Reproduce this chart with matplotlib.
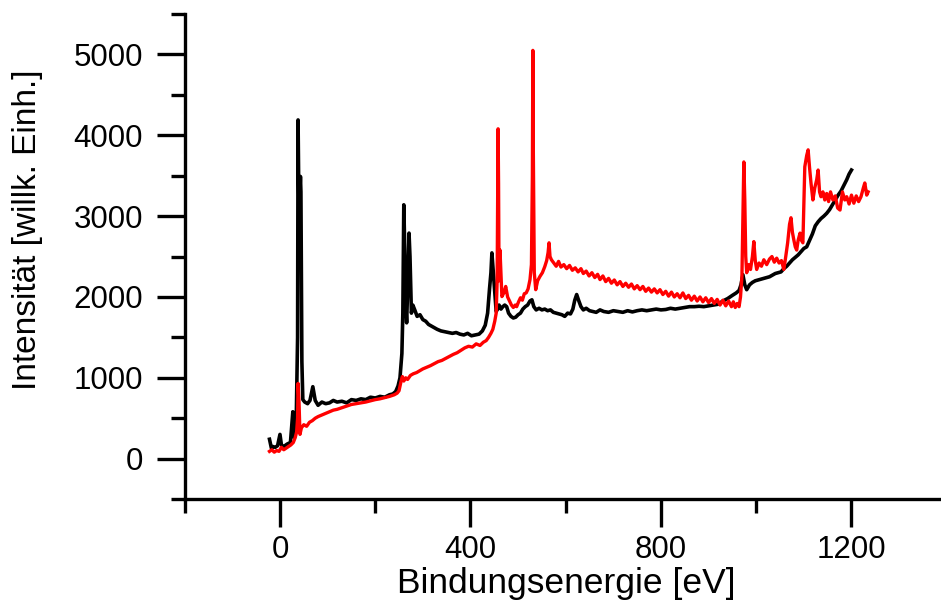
import matplotlib
matplotlib.use('Agg')
import matplotlib.pyplot as plt
from matplotlib.ticker import MultipleLocator

plt.rcParams['font.family'] = ['Liberation Sans', 'DejaVu Sans']

# black spectrum
black_x = [-22, -18, -15, -10, -5, 0, 3, 8, 15, 22,
           27, 30, 34, 37, 38, 40, 43, 44, 46, 48,
           52, 58, 63, 69, 74, 80, 88, 96, 104, 112,
           120, 130, 140, 150, 160, 170, 180, 190, 200, 210,
           220, 230, 237, 243, 248, 252, 256, 258, 260, 262,
           264, 266, 269, 271, 273, 276, 279, 283, 288, 294,
           300, 306, 312, 318, 324, 330, 338, 346, 354, 362,
           370, 378, 386, 394, 402, 410, 418, 425, 431, 436,
           440, 443, 445, 448, 451, 454, 457, 460, 464, 468,
           472, 476, 480, 485, 490, 495, 500, 505, 510, 515,
           520, 525, 529, 533, 538, 544, 550, 556, 562, 568,
           574, 580, 586, 592, 598, 604, 610, 615, 619, 623,
           627, 632, 637, 643, 650, 657, 664, 672, 680, 690,
           700, 710, 720, 730, 740, 750, 760, 770, 780, 790,
           800, 810, 820, 830, 840, 850, 860, 870, 880, 890,
           900, 910, 920, 930, 940, 950, 958, 964, 968, 972,
           976, 980, 986, 992, 998, 1004, 1010, 1016, 1022, 1028,
           1034, 1040, 1046, 1052, 1058, 1064, 1070, 1076, 1082, 1088,
           1094, 1100, 1106, 1112, 1118, 1124, 1130, 1136, 1142, 1148,
           1154, 1160, 1166, 1172, 1178, 1184, 1190, 1195, 1200]
black_y = [240, 130, 150, 140, 160, 300, 170, 150, 180, 200,
           580, 260, 420, 1500, 4190, 3000, 3490, 3300, 1200, 730,
           700, 680, 720, 890, 720, 660, 700, 680, 690, 720,
           700, 710, 690, 730, 720, 740, 730, 760, 750, 770,
           760, 790, 800, 830, 900, 1000, 1300, 1800, 3140, 2600,
           1900, 1680, 2300, 2790, 2500, 1800, 1900, 1840, 1760, 1780,
           1720, 1700, 1660, 1640, 1620, 1600, 1580, 1570, 1560, 1550,
           1560, 1540, 1530, 1550, 1520, 1530, 1540, 1580, 1650, 1800,
           2100, 2300, 2545, 2300, 2050, 1820, 1850, 1900, 1850, 1880,
           1900, 1880, 1800, 1760, 1740, 1750, 1780, 1800, 1850, 1880,
           1900, 1950, 1965, 1880, 1840, 1860, 1840, 1850, 1830, 1840,
           1810, 1800, 1790, 1780, 1760, 1800, 1790, 1850, 1960, 2030,
           1960, 1880, 1840, 1860, 1830, 1820, 1810, 1840, 1820, 1810,
           1830, 1820, 1810, 1830, 1815, 1830, 1840, 1830, 1840, 1850,
           1840, 1845, 1860, 1850, 1860, 1870, 1880, 1880, 1885, 1880,
           1890, 1900, 1910, 1950, 1980, 2020, 2050, 2080, 2150, 2275,
           2150, 2090, 2150, 2180, 2200, 2210, 2220, 2230, 2240, 2250,
           2270, 2290, 2300, 2310, 2350, 2380, 2420, 2460, 2490, 2520,
           2560, 2600, 2620, 2700, 2780, 2880, 2930, 2970, 3000, 3035,
           3080, 3140, 3200, 3260, 3310, 3380, 3450, 3520, 3570]

# red spectrum
red_x = [-22, -17, -12, -7, -2, 3, 8, 13, 18, 23,
         28, 32, 35, 37, 38, 40, 42, 45, 50, 56,
         62, 68, 74, 80, 88, 96, 104, 112, 120, 130,
         140, 150, 160, 170, 180, 190, 200, 210, 220, 230,
         240, 246, 250, 254, 257, 260, 264, 268, 274, 280,
         287, 294, 300, 308, 316, 324, 332, 340, 348, 356,
         364, 372, 380, 388, 396, 404, 412, 420, 427, 433,
         438, 443, 447, 451, 454, 456, 457, 458, 459, 460,
         462, 464, 466, 470, 474, 478, 482, 486, 490, 494,
         497, 501, 505, 509, 513, 517, 521, 525, 528, 530,
         531, 532, 534, 537, 541, 546, 551, 556, 560, 563,
         565, 567, 570, 575, 580, 585, 590, 596, 602, 608,
         614, 620, 626, 632, 637, 643, 649, 655, 661, 667,
         672, 678, 684, 690, 696, 702, 708, 714, 720, 726,
         732, 738, 744, 750, 756, 762, 768, 774, 780, 786,
         792, 798, 804, 810, 816, 822, 828, 834, 840, 846,
         852, 858, 864, 870, 876, 882, 888, 894, 900, 906,
         912, 918, 924, 930, 936, 942, 948, 952, 956, 960,
         964, 967, 970, 972, 974, 976, 978, 980, 984, 988,
         992, 995, 998, 1001, 1006, 1011, 1016, 1022, 1028, 1033,
         1038, 1043, 1048, 1053, 1058, 1062, 1066, 1070, 1073, 1076,
         1079, 1082, 1085, 1088, 1092, 1095, 1098, 1102, 1106, 1109,
         1112, 1115, 1119, 1123, 1127, 1130, 1133, 1136, 1140, 1144,
         1148, 1152, 1156, 1161, 1166, 1171, 1176, 1181, 1186, 1190,
         1195, 1200, 1205, 1210, 1215, 1220, 1225, 1228, 1232, 1235]
red_y = [90, 110, 80, 100, 90, 140, 110, 130, 150, 170,
         200, 260, 330, 500, 930, 700, 300, 380, 420, 400,
         450, 470, 500, 520, 540, 560, 580, 600, 610, 630,
         650, 670, 680, 690, 700, 715, 730, 740, 755, 770,
         790, 810, 840, 950, 1015, 960, 1000, 980, 1030, 1050,
         1065, 1090, 1110, 1130, 1150, 1175, 1200, 1215, 1240, 1265,
         1290, 1310, 1340, 1370, 1390, 1380, 1420, 1400, 1440, 1460,
         1500, 1550, 1600, 1700, 1800, 2200, 3200, 4080, 3400, 2200,
         2580, 2300, 2005, 2050, 2130, 2000, 1950, 1900, 1870, 1900,
         1880, 1940, 1990, 1960, 2040, 2050, 2100, 2215, 2400, 3500,
         5050, 3800, 2300, 2090, 2200, 2255, 2300, 2375, 2450, 2550,
         2670, 2500, 2460, 2420, 2380, 2440, 2370, 2400, 2350, 2390,
         2330, 2360, 2310, 2350, 2290, 2320, 2260, 2300, 2240, 2280,
         2215, 2260, 2190, 2230, 2170, 2210, 2150, 2190, 2130, 2170,
         2120, 2160, 2100, 2140, 2090, 2130, 2070, 2110, 2060, 2100,
         2050, 2090, 2030, 2070, 2010, 2060, 2000, 2040, 1990, 2050,
         1980, 2020, 1960, 2010, 1950, 2000, 1940, 1990, 1930, 1980,
         1920, 1970, 1900, 1960, 1890, 1950, 1880, 1940, 1870, 1920,
         1880, 2000, 2255, 3000, 3670, 3200, 2500, 2300, 2400, 2340,
         2500, 2685, 2450, 2340, 2420, 2380, 2460, 2400, 2470, 2500,
         2430, 2480, 2420, 2450, 2340, 2500, 2670, 2900, 2980, 2800,
         2705, 2620, 2580, 2700, 2790, 2700, 2670, 3610, 3750, 3820,
         3600, 3410, 3200, 3350, 3450, 3570, 3300, 3240, 3300, 3200,
         3280, 3180, 3300, 3200, 3250, 3100, 3075, 3300, 3200, 3240,
         3150, 3260, 3160, 3250, 3180, 3240, 3350, 3410, 3260, 3300]

fig = plt.figure(figsize=(9.41, 6.02), dpi=100)
ax = fig.add_axes([0.1963, 0.171, 0.8037, 0.8057])

ax.plot(black_x, black_y, color='black', lw=2.6)
ax.plot(red_x, red_y, color='red', lw=2.4)

ax.set_xlim(-200, 1388)
ax.set_ylim(-500, 5500)

ax.spines['top'].set_visible(False)
ax.spines['right'].set_visible(False)
ax.spines['left'].set_linewidth(2.4)
ax.spines['bottom'].set_linewidth(2.4)

ax.xaxis.set_minor_locator(MultipleLocator(200))
ax.yaxis.set_minor_locator(MultipleLocator(500))
ax.set_xticks([0, 400, 800, 1200])
ax.set_yticks([0, 1000, 2000, 3000, 4000, 5000])

ax.tick_params(which='major', direction='out', length=20, width=2.4,
               labelsize=22.5, pad=10)
ax.tick_params(axis='x', which='major', pad=6)
ax.tick_params(which='minor', direction='out', length=10, width=2.4)

fig.text(28 / 941, 1 - 230 / 602, 'Intensität [willk. Einh.]', rotation=90,
         ha='center', va='center', fontsize=24)
fig.text(566 / 941, 1 - 593 / 602, 'Bindungsenergie [eV]',
         ha='center', va='baseline', fontsize=25.5)

fig.savefig('out.png', dpi=100)
